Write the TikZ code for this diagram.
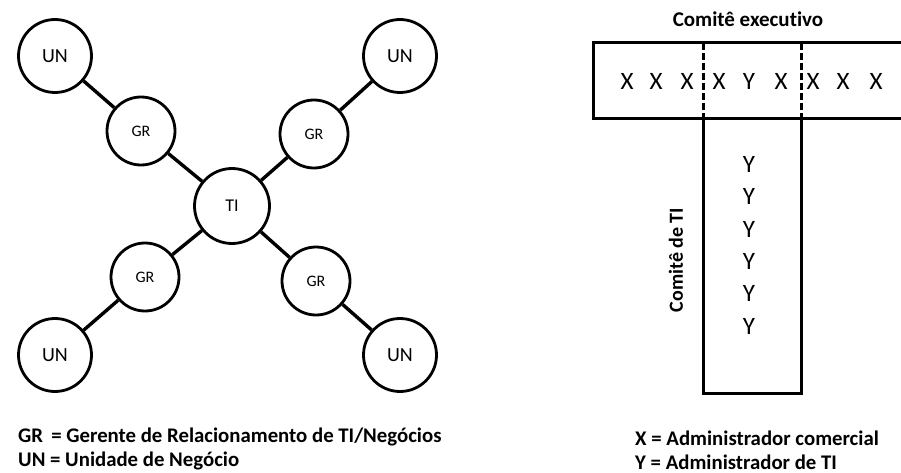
\documentclass[tikz,border=0pt]{standalone}
\usepackage{fontspec}
\setmainfont{Carlito}[Ligatures = {NoCommon}]
\begin{document}
\begin{tikzpicture}[x = 1pt, y = -1pt,
    unit/.style = {circle, draw, line width = 2.8pt, minimum size = 73pt, inner sep = 0pt, font = \fontsize{20}{22}\selectfont},
    gerente/.style = {circle, draw, line width = 2.8pt, minimum size = 68pt, inner sep = 0pt, font = \fontsize{16}{18}\selectfont},
    centro/.style = {circle, draw, line width = 2.8pt, minimum size = 75pt, inner sep = 0pt, font = \fontsize{18}{20}\selectfont},
    elo/.style = {line width = 3.4pt},
    membro/.style = {font = \fontsize{25}{27}\selectfont, inner sep = 0pt},
    legenda/.style = {anchor = west, inner sep = 0pt, font = \bfseries\fontsize{20.8}{22}\selectfont}]
    \useasboundingbox (0,0) rectangle (901,473);
    % left: TI with its business units
    \node [centro] (ti) at (232,206) {TI};
    \node [gerente] (gr1) at (141,131) {GR};
    \node [gerente] (gr2) at (314,134) {GR};
    \node [gerente] (gr3) at (145,277) {GR};
    \node [gerente] (gr4) at (316,281) {GR};
    \node [unit] (un1) at (55,56) {UN};
    \node [unit] (un2) at (400,56) {UN};
    \node [unit] (un3) at (55,355) {UN};
    \node [unit] (un4) at (400,355) {UN};
    \draw [elo] (un1) -- (gr1) (gr1) -- (ti);
    \draw [elo] (un2) -- (gr2) (gr2) -- (ti);
    \draw [elo] (un3) -- (gr3) (gr3) -- (ti);
    \draw [elo] (un4) -- (gr4) (gr4) -- (ti);
    \node [legenda] (leg1) at (18,437) {GR \,= Gerente de Relacionamento de TI/Negócios};
    \node [legenda] (leg2) at (18,461) {UN = Unidade de Negócio};
    % right: the T of the committees
    \draw [line width = 3pt] (903,43) -- (593,43) -- (593,119) -- (903,119);
    \draw [line width = 3pt, dash pattern = on 7pt off 3pt] (703,43) -- (703,119) (801,43) -- (801,119);
    \draw [line width = 3pt, line join = miter] (703,119) -- (703,393) -- (801,393) -- (801,119);
    \node [font = \bfseries\fontsize{21}{23}\selectfont] (exec) at (748,19) {Comitê executivo};
    \node [font = \bfseries\fontsize{20}{22}\selectfont, rotate = 90] (comti) at (676,260) {Comitê de TI};
    \foreach \px/\letra [count = \i] in {627/X, 656/X, 687/X, 719/X, 749/Y, 781/X, 813/X, 843/X, 876/X}
      \node [membro] (m\i) at (\px,81) {\letra};
    \foreach \py [count = \i] in {164, 196, 229, 261, 293, 326}
      \node [membro] (y\i) at (749,\py) {Y};
    \node [legenda] (leg3) at (635,438) {X = Administrador comercial};
    \node [legenda] (leg4) at (635,462) {Y = Administrador de TI};
\end{tikzpicture}
\end{document}
